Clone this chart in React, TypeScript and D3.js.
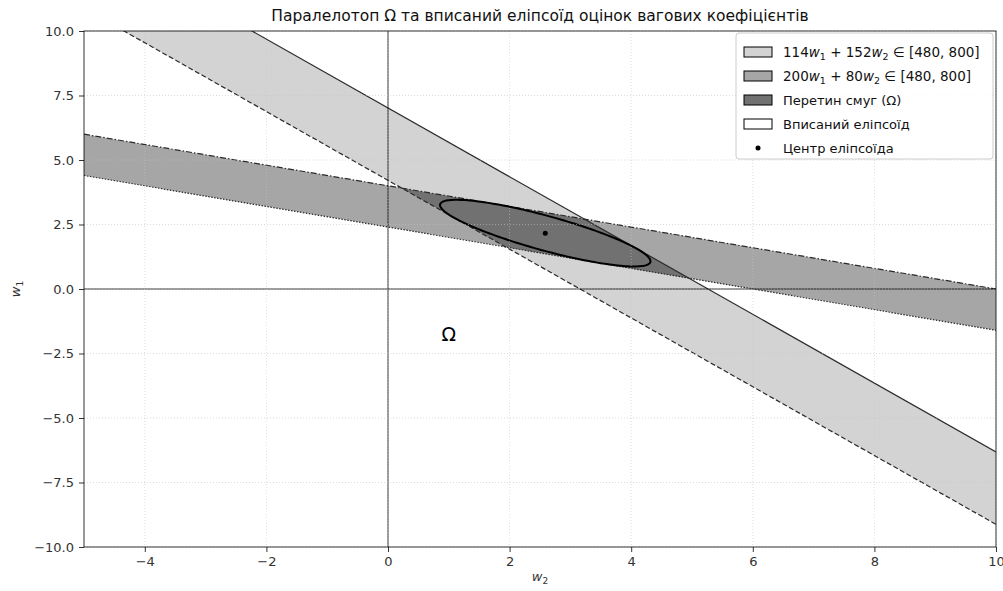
import * as d3 from "d3";
import React, { useRef, useEffect } from "react";

// constraints a*w1 + b*w2 in [lo, hi]
const coefW1 = [114, 200];
const coefW2 = [152, 80];
const bandBounds = [480, 800];
const bandFills = ["#d3d3d3", "#a6a6a6"];
const interFill = "#717171";
const legendLabels = ["Перетин смуг (Ω)", "Вписаний еліпсоїд", "Центр еліпсоїда"];
const xTicks = [-4, -2, 0, 2, 4, 6, 8, 10];
const yTicks = [-10, -7.5, -5, -2.5, 0, 2.5, 5, 7.5, 10];
const omegaPos = [1.0, -2.0];

const W = 1003;
const H = 591;
const margin = { top: 31, left: 84, right: 7, bottom: 44 };
const font = "DejaVu Sans, sans-serif";

function App() {
  const ref = useRef(null);
  const innerWidth = W - margin.left - margin.right;
  const innerHeight = H - margin.top - margin.bottom;

  useEffect(() => {
    const x = d3.scaleLinear().domain([-5, 10]).range([0, innerWidth]);
    const y = d3.scaleLinear().domain([-10, 10]).range([innerHeight, 0]);

    const svg = d3.select(ref.current);
    svg.selectAll("*").remove();
    svg.attr("width", W).attr("height", H).style("font-family", font);

    svg.append("defs").append("clipPath").attr("id", "plotclip")
      .append("rect").attr("width", innerWidth).attr("height", innerHeight);

    const g = svg.append("g").attr("transform", `translate(${margin.left},${margin.top})`);
    const plot = g.append("g").attr("clip-path", "url(#plotclip)");

    // w1 on a boundary line for given w2
    const w1At = (i, c, w2) => (c - coefW2[i] * w2) / coefW1[i];
    const [x0, x1] = x.domain();
    const line = d3.line().x((d) => x(d[0])).y((d) => y(d[1]));

    // bands
    [0, 1].forEach((i) => {
      const pts = [
        [x0, w1At(i, bandBounds[0], x0)],
        [x1, w1At(i, bandBounds[0], x1)],
        [x1, w1At(i, bandBounds[1], x1)],
        [x0, w1At(i, bandBounds[1], x0)],
      ];
      plot.append("path").attr("d", line(pts) + "Z").attr("fill", bandFills[i]);
    });

    // intersection parallelogram
    const det = coefW1[0] * coefW2[1] - coefW2[0] * coefW1[1];
    const vertex = (c1, c2) => [
      (coefW1[0] * c2 - coefW1[1] * c1) / det, // w2
      (c1 * coefW2[1] - coefW2[0] * c2) / det, // w1
    ];
    const lo = bandBounds[0], hi = bandBounds[1];
    const verts = [vertex(lo, lo), vertex(hi, lo), vertex(hi, hi), vertex(lo, hi)];
    plot.append("path").attr("d", line(verts) + "Z").attr("fill", interFill);

    // grid
    g.append("g").selectAll("line").data(xTicks).join("line")
      .attr("x1", (d) => x(d)).attr("x2", (d) => x(d))
      .attr("y1", 0).attr("y2", innerHeight)
      .attr("stroke", "#c4c4c4").attr("stroke-width", 0.8)
      .attr("stroke-dasharray", "1,2").attr("opacity", 0.7);
    g.append("g").selectAll("line").data(yTicks).join("line")
      .attr("x1", 0).attr("x2", innerWidth)
      .attr("y1", (d) => y(d)).attr("y2", (d) => y(d))
      .attr("stroke", "#c4c4c4").attr("stroke-width", 0.8)
      .attr("stroke-dasharray", "1,2").attr("opacity", 0.7);

    // boundary lines
    const styles = [
      ["5,2.5", null],
      ["1.5,1.5", "6,2,1.5,2"],
    ];
    [0, 1].forEach((i) => {
      bandBounds.forEach((c, j) => {
        plot.append("path")
          .attr("d", line([[x0, w1At(i, c, x0)], [x1, w1At(i, c, x1)]]))
          .attr("fill", "none").attr("stroke", "#2a2a2a")
          .attr("stroke-width", 1.2)
          .attr("stroke-dasharray", styles[i][j]);
      });
    });

    // zero lines
    plot.append("line").attr("x1", 0).attr("x2", innerWidth)
      .attr("y1", y(0)).attr("y2", y(0)).attr("stroke", "#000").attr("stroke-width", 0.8);
    plot.append("line").attr("x1", x(0)).attr("x2", x(0))
      .attr("y1", 0).attr("y2", innerHeight).attr("stroke", "#000").attr("stroke-width", 0.8);

    // inscribed ellipse: affine image of the unit circle in the parallelogram
    const cx = d3.mean(verts, (d) => d[0]);
    const cy = d3.mean(verts, (d) => d[1]);
    const u = [(verts[1][0] - verts[0][0]) / 2, (verts[1][1] - verts[0][1]) / 2];
    const v = [(verts[3][0] - verts[0][0]) / 2, (verts[3][1] - verts[0][1]) / 2];
    const ell = d3.range(0, 361, 2).map((t) => {
      const a = (t * Math.PI) / 180;
      return [cx + u[0] * Math.cos(a) + v[0] * Math.sin(a), cy + u[1] * Math.cos(a) + v[1] * Math.sin(a)];
    });
    plot.append("path").attr("d", line(ell) + "Z")
      .attr("fill", "none").attr("stroke", "#000").attr("stroke-width", 2);
    plot.append("circle").attr("cx", x(cx)).attr("cy", y(cy)).attr("r", 2.5).attr("fill", "#000");

    // Omega label
    g.append("text").attr("x", x(omegaPos[0])).attr("y", y(omegaPos[1]))
      .attr("text-anchor", "middle").attr("font-size", 19).attr("fill", "#000").text("Ω");

    // axes
    const xAxis = g.append("g").attr("transform", `translate(0,${innerHeight})`)
      .call(d3.axisBottom(x).tickValues(xTicks).tickSize(5).tickPadding(5).tickFormat(d3.format("d")));
    const yAxis = g.append("g")
      .call(d3.axisLeft(y).tickValues(yTicks).tickSize(5).tickPadding(5).tickFormat(d3.format(".1f")));
    [xAxis, yAxis].forEach((ax) => {
      ax.select(".domain").remove();
      ax.selectAll("text").attr("font-size", 13).attr("font-family", font).attr("fill", "#333");
      ax.selectAll("line").attr("stroke", "#000").attr("stroke-width", 0.8);
    });
    g.append("rect").attr("width", innerWidth).attr("height", innerHeight)
      .attr("fill", "none").attr("stroke", "#000").attr("stroke-width", 0.8);

    // axis labels
    const xl = g.append("text").attr("x", innerWidth / 2).attr("y", innerHeight + 34)
      .attr("text-anchor", "middle").attr("font-size", 13).attr("fill", "#333");
    xl.append("tspan").attr("font-style", "italic").text("w");
    xl.append("tspan").attr("font-size", 9).attr("dy", 3).text("2");
    const yl = g.append("text").attr("transform", `translate(${-64},${innerHeight / 2}) rotate(-90)`)
      .attr("text-anchor", "middle").attr("font-size", 13).attr("fill", "#333");
    yl.append("tspan").attr("font-style", "italic").text("w");
    yl.append("tspan").attr("font-size", 9).attr("dy", 3).text("1");

    // title
    svg.append("text").attr("x", margin.left + innerWidth / 2).attr("y", 21)
      .attr("text-anchor", "middle").attr("font-size", 15.5).attr("fill", "#111")
      .text("Паралелотоп Ω та вписаний еліпсоїд оцінок вагових коефіцієнтів");

    // legend
    const lg = svg.append("g").attr("transform", "translate(736,33)");
    lg.append("rect").attr("width", 257).attr("height", 126).attr("rx", 3)
      .attr("fill", "#fff").attr("fill-opacity", 0.85).attr("stroke", "#ccc");
    const rowY = (i) => 19 + i * 24;
    const patchFills = [bandFills[0], bandFills[1], interFill, "#fff"];
    patchFills.forEach((f, i) => {
      lg.append("rect").attr("x", 8).attr("y", rowY(i) - 5).attr("width", 28).attr("height", 10)
        .attr("fill", f).attr("stroke", "#000").attr("stroke-width", 1);
    });
    lg.append("circle").attr("cx", 22).attr("cy", rowY(4)).attr("r", 2.5).attr("fill", "#000");
    const mathLabel = (i) => {
      const t = lg.append("text").attr("x", 47).attr("y", rowY(i) + 5)
        .attr("font-size", 13.5).attr("fill", "#111");
      t.append("tspan").text(`${coefW1[i]}`);
      t.append("tspan").attr("font-style", "italic").text("w");
      t.append("tspan").attr("font-size", 9.5).attr("dy", 3).text("1");
      t.append("tspan").attr("dy", -3).text(` + ${coefW2[i]}`);
      t.append("tspan").attr("font-style", "italic").text("w");
      t.append("tspan").attr("font-size", 9.5).attr("dy", 3).text("2");
      t.append("tspan").attr("dy", -3).text(` ∈ [${bandBounds[0]}, ${bandBounds[1]}]`);
    };
    mathLabel(0);
    mathLabel(1);
    legendLabels.forEach((s, k) => {
      lg.append("text").attr("x", 47).attr("y", rowY(k + 2) + 5)
        .attr("font-size", 13).attr("fill", "#111").text(s);
    });
  }, []); // eslint-disable-line react-hooks/exhaustive-deps

  return (
    <div style={{ position: "absolute", left: 0, top: 0 }}>
      <svg ref={ref}></svg>
    </div>
  );
}

export default App;
